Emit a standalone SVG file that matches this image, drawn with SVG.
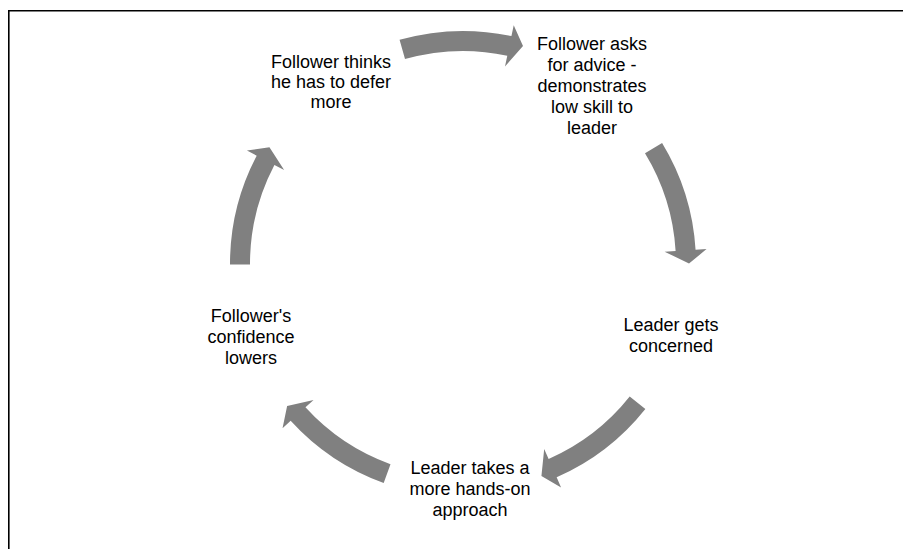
<svg xmlns="http://www.w3.org/2000/svg" width="903" height="549" viewBox="0 0 903 549">
  <style>
    .frame { fill: none; stroke: #000; stroke-width: 1.6; }
    .arrow { fill: #808080; }
    .label { font-family: "Liberation Sans", Arial, sans-serif; font-size: 18px; fill: #000; text-anchor: middle; }
  </style>
  <defs>
    <!-- curved block arrow on a circle centred at (463,264), drawn at the top of the cycle -->
    <path id="cycle-arrow" d="M399.56 39.8 A233 233 0 0 1 511.44 36.09 L513.73 25.33 L523 46.1 L505 66.41 L507.28 55.65 A213 213 0 0 0 405 59.05 Z"/>
  </defs>

  <rect width="903" height="549" fill="#fff"/>
  <path class="frame" d="M8.8 549 V10.8 H903"/>

  <g id="connectors" class="arrow">
    <use href="#cycle-arrow"/>
    <use href="#cycle-arrow" transform="rotate(74.5 463 264)"/>
    <use href="#cycle-arrow" transform="rotate(144.3 463 264)"/>
    <use href="#cycle-arrow" transform="rotate(215.7 463 264)"/>
    <use href="#cycle-arrow" transform="rotate(285.7 463 264)"/>
  </g>

  <g id="node-asks-advice">
    <text class="label" x="592" y="50">Follower asks</text>
    <text class="label" x="592" y="71">for advice -</text>
    <text class="label" x="592" y="92">demonstrates</text>
    <text class="label" x="592" y="113">low skill to</text>
    <text class="label" x="592" y="134">leader</text>
  </g>

  <g id="node-leader-concerned">
    <text class="label" x="671" y="331">Leader gets</text>
    <text class="label" x="671" y="352">concerned</text>
  </g>

  <g id="node-hands-on">
    <text class="label" x="470" y="474">Leader takes a</text>
    <text class="label" x="470" y="495">more hands-on</text>
    <text class="label" x="470" y="516">approach</text>
  </g>

  <g id="node-confidence">
    <text class="label" x="251" y="322">Follower's</text>
    <text class="label" x="251" y="343">confidence</text>
    <text class="label" x="251" y="364">lowers</text>
  </g>

  <g id="node-defer">
    <text class="label" x="331" y="68">Follower thinks</text>
    <text class="label" x="331" y="88">he has to defer</text>
    <text class="label" x="331" y="108">more</text>
  </g>
</svg>
